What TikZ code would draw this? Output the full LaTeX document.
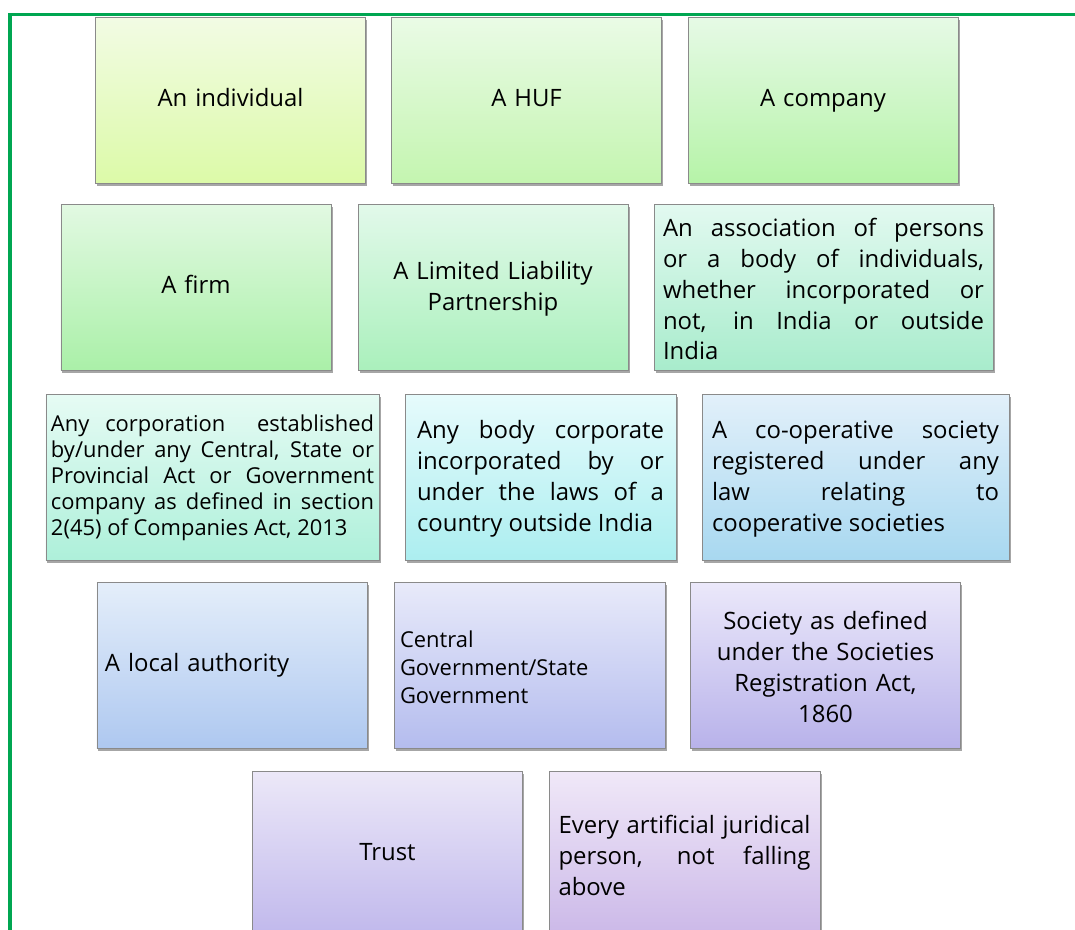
\documentclass[tikz,border=0pt]{standalone}
\usepackage{fontspec}
\setmainfont{Open Sans}
\usetikzlibrary{shadows}

\definecolor{frgreen}{RGB}{0,166,81}
\definecolor{edgegray}{RGB}{138,138,138}
\definecolor{indtop}{RGB}{242,251,228}
\definecolor{indbot}{RGB}{220,250,168}
\definecolor{huftop}{RGB}{234,251,230}
\definecolor{hufbot}{RGB}{196,245,176}
\definecolor{comtop}{RGB}{230,250,230}
\definecolor{combot}{RGB}{182,243,168}
\definecolor{firtop}{RGB}{226,249,226}
\definecolor{firbot}{RGB}{170,240,168}
\definecolor{llptop}{RGB}{226,249,234}
\definecolor{llpbot}{RGB}{170,240,188}
\definecolor{aoptop}{RGB}{226,249,240}
\definecolor{aopbot}{RGB}{168,236,204}
\definecolor{cortop}{RGB}{230,251,244}
\definecolor{corbot}{RGB}{174,240,218}
\definecolor{bodtop}{RGB}{230,251,252}
\definecolor{bodbot}{RGB}{172,238,240}
\definecolor{cootop}{RGB}{226,240,250}
\definecolor{coobot}{RGB}{168,216,240}
\definecolor{loctop}{RGB}{228,238,250}
\definecolor{locbot}{RGB}{174,200,240}
\definecolor{govtop}{RGB}{232,234,250}
\definecolor{govbot}{RGB}{180,188,238}
\definecolor{soctop}{RGB}{235,232,250}
\definecolor{socbot}{RGB}{184,178,234}
\definecolor{trutop}{RGB}{236,232,248}
\definecolor{trubot}{RGB}{192,184,236}
\definecolor{arttop}{RGB}{240,232,248}
\definecolor{artbot}{RGB}{203,184,232}

\newcommand\bigfont{\fontsize{24}{31}\selectfont}
\newcommand\midfont{\fontsize{22}{28}\selectfont}
\newcommand\smallfont{\fontsize{22}{26}\selectfont}

\tikzset{
    entity/.style={draw=edgegray, line width=0.8bp, rectangle, minimum height=166bp,
        inner xsep=8bp, inner ysep=0bp, text width=254bp, align=center, font=\bigfont,
        execute at begin node=\strut,
        drop shadow={shadow xshift=1.5bp, shadow yshift=-2.5bp, opacity=0.35, fill=black}},
    flush/.style={align=left},
    block/.style={align=justify}
}

\begin{document}
\begin{tikzpicture}[x=1bp, y=-1bp]
    \clip (0,0) rectangle (1075,930);
    % row 1
    \node[entity, top color=indtop, bottom color=indbot] (indiv) at (230.5,100) {An individual};
    \node[entity, top color=huftop, bottom color=hufbot] (huf) at (526.5,100) {A HUF};
    \node[entity, top color=comtop, bottom color=combot] (comp) at (823,100) {A company};
    % row 2
    \node[entity, top color=firtop, bottom color=firbot] (firm) at (196,287.5) {A firm};
    \node[entity, top color=llptop, bottom color=llpbot] (llp) at (493,287.5) {A Limited Liability\\Partnership};
    \node[entity, block, inner xsep=9bp, text width=321bp, top color=aoptop, bottom color=aopbot] (aop) at (823.5,287.5)
        {An association of persons\linebreak or a body of individuals,\linebreak whether incorporated or\linebreak not, in India or outside\linebreak India};
    % row 3
    \node[entity, block, font=\smallfont, inner xsep=5bp, text width=323bp, top color=cortop, bottom color=corbot] (corp) at (212.5,477)
        {Any corporation\ \ established\linebreak by/under any Central, State or\linebreak Provincial Act or Government\linebreak company as defined in section\linebreak 2(45) of Companies Act, 2013};
    \node[entity, block, inner xsep=12bp, text width=247bp, top color=bodtop, bottom color=bodbot] (body) at (540.5,477)
        {Any body corporate\linebreak incorporated by or\linebreak under the laws of a\linebreak country outside India};
    \node[entity, block, inner xsep=10bp, text width=287bp, top color=cootop, bottom color=coobot] (coop) at (855.5,477)
        {A co-operative society\linebreak registered under any\linebreak law relating to\linebreak cooperative societies};
    % row 4
    \node[entity, flush, top color=loctop, bottom color=locbot] (local) at (232,665.5) {A local authority};
    \node[entity, flush, font=\midfont, inner xsep=6bp, text width=259bp, top color=govtop, bottom color=govbot] (govt) at (529.5,665.5)
        {Central\\Government/State\\Government};
    \node[entity, top color=soctop, bottom color=socbot] (soc) at (825.5,665.5)
        {Society as defined\\under the Societies\\Registration Act,\\1860};
    % row 5
    \node[entity, top color=trutop, bottom color=trubot] (trust) at (387.5,854) {Trust};
    \node[entity, block, inner xsep=9.5bp, text width=252bp, top color=arttop, bottom color=artbot] (ajp) at (684.5,854)
        {Every artificial juridical\linebreak person, not falling\linebreak above};
    % frame
    \draw[line width=3.5bp, color=frgreen] (10,14.5) rectangle (1100,960);
\end{tikzpicture}
\end{document}
